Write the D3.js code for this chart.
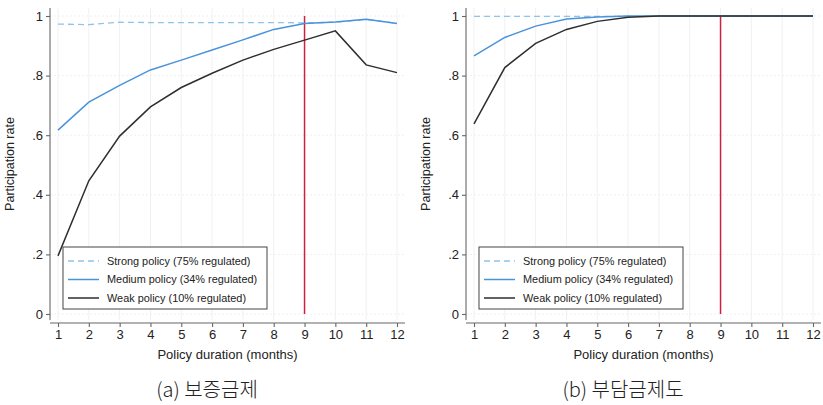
<!DOCTYPE html>
<html>
<head>
<meta charset="utf-8">
<script src="https://cdn.jsdelivr.net/npm/d3@7.9.0/dist/d3.min.js"></script>
<style>
  body { margin: 0; background: #fff; }
  svg { display: block; font-family: "Liberation Sans", Arial, sans-serif; }
  .caption { font-family: "Noto Sans CJK KR", sans-serif; font-weight: 300; }
</style>
</head>
<body>
<svg id="chart" width="823" height="405"></svg>
<script>
// months on the x axis
const months = [1, 2, 3, 4, 5, 6, 7, 8, 9, 10, 11, 12];
const yTicks = [0, 0.2, 0.4, 0.6, 0.8, 1];
const yTickLabels = ['0', '.2', '.4', '.6', '.8', '1'];
const legendLabels = ['Strong policy (75% regulated)', 'Medium policy (34% regulated)', 'Weak policy (10% regulated)'];
const cutoffMonth = 9;

// (a) 보증금제
const strongA = [0.973, 0.971, 0.979, 0.978, 0.978, 0.978, 0.978, 0.978, 0.977, 0.979, 0.989, 0.975];
const mediumA = [0.617, 0.711, 0.767, 0.819, 0.852, 0.886, 0.920, 0.955, 0.975, 0.980, 0.989, 0.975];
const weakA   = [0.195, 0.447, 0.597, 0.695, 0.760, 0.808, 0.852, 0.888, 0.919, 0.950, 0.836, 0.810];

// (b) 부담금제도
const strongB = [0.999, 0.999, 0.999, 0.999, 0.999, 0.999, 0.999, 0.999, 0.999, 0.999, 0.999, 0.999];
const mediumB = [0.866, 0.928, 0.966, 0.990, 0.997, 1.000, 1.000, 1.000, 1.000, 1.000, 1.000, 1.000];
const weakB   = [0.638, 0.827, 0.908, 0.955, 0.982, 0.996, 1.000, 1.000, 1.000, 1.000, 1.000, 1.000];

const svg = d3.select('#chart');

const styles = [
  { color: '#8ec3ea', dash: '6,4', width: 1.3 },
  { color: '#4a92db', dash: null, width: 1.5 },
  { color: '#2e2e2e', dash: null, width: 1.5 }
];

function drawPanel(left, axisEnd, captionX, caption, series) {
  const g = svg.append('g');
  const x = d3.scaleLinear().domain([1, 12]).range([left + 8, left + 347]);
  const y = d3.scaleLinear().domain([0, 1]).range([314, 16]);

  // faint grid
  g.selectAll('.vgrid').data(months).enter().append('line')
    .attr('x1', d => x(d)).attr('x2', d => x(d))
    .attr('y1', 8).attr('y2', 320)
    .attr('stroke', '#f1f1f1').attr('stroke-width', 1);
  g.selectAll('.hgrid').data(yTicks).enter().append('line')
    .attr('x1', left).attr('x2', axisEnd)
    .attr('y1', d => y(d)).attr('y2', d => y(d))
    .attr('stroke', '#efefef').attr('stroke-width', 1)
    .attr('stroke-dasharray', '2,2');

  // y axis
  const yAxis = g.append('g').attr('transform', `translate(${left},0)`)
    .call(d3.axisLeft(y).tickValues(yTicks).tickSize(4).tickPadding(3)
      .tickFormat((d, i) => yTickLabels[i]));
  yAxis.select('.domain').attr('d', `M0,8V320`);

  // x axis
  const xAxis = g.append('g').attr('transform', 'translate(0,323)')
    .call(d3.axisBottom(x).tickValues(months).tickSize(4).tickPadding(3).tickFormat(d3.format('d')));
  xAxis.select('.domain').attr('d', `M${left},0H${axisEnd}`);

  g.selectAll('.domain, .tick line').attr('stroke', '#666').attr('stroke-width', 1.1);
  g.selectAll('.tick text').attr('fill', '#222').style('font-size', '13px');

  // axis titles
  g.append('text')
    .attr('transform', `translate(${left - 36},164) rotate(-90)`)
    .attr('text-anchor', 'middle').style('font-size', '12.5px').attr('fill', '#222')
    .text('Participation rate');
  g.append('text')
    .attr('x', (x(1) + x(12)) / 2).attr('y', 359)
    .attr('text-anchor', 'middle').style('font-size', '13px').attr('fill', '#222')
    .text('Policy duration (months)');

  // cutoff line
  g.append('line')
    .attr('x1', x(cutoffMonth)).attr('x2', x(cutoffMonth))
    .attr('y1', y(1)).attr('y2', y(0))
    .attr('stroke', '#d02040').attr('stroke-width', 1.5);

  // series lines
  const line = d3.line().x((d, i) => x(months[i])).y(d => y(d));
  series.forEach((s, k) => {
    g.append('path').datum(s)
      .attr('d', line).attr('fill', 'none')
      .attr('stroke', styles[k].color).attr('stroke-width', styles[k].width)
      .attr('stroke-dasharray', styles[k].dash);
  });

  // legend
  const lg = g.append('g').attr('transform', `translate(${left + 13},247)`);
  lg.append('rect').attr('width', 204).attr('height', 62)
    .attr('fill', '#fff').attr('stroke', '#444').attr('stroke-width', 1);
  legendLabels.forEach((label, k) => {
    const yy = 14 + k * 18.5;
    lg.append('line').attr('x1', 5).attr('x2', 36).attr('y1', yy).attr('y2', yy)
      .attr('stroke', styles[k].color).attr('stroke-width', styles[k].width)
      .attr('stroke-dasharray', styles[k].dash);
    lg.append('text').attr('x', 44).attr('y', yy + 3.8)
      .style('font-size', '10.9px').attr('fill', '#222').text(label);
  });

  // caption
  g.append('text').attr('class', 'caption')
    .attr('x', captionX).attr('y', 397)
    .attr('text-anchor', 'middle').style('font-size', '20px').attr('fill', '#222')
    .text(caption);
}

drawPanel(50, 405, 207, '(a) 보증금제', [strongA, mediumA, weakA]);
drawPanel(466, 821, 623, '(b) 부담금제도', [strongB, mediumB, weakB]);
</script>
</body>
</html>
